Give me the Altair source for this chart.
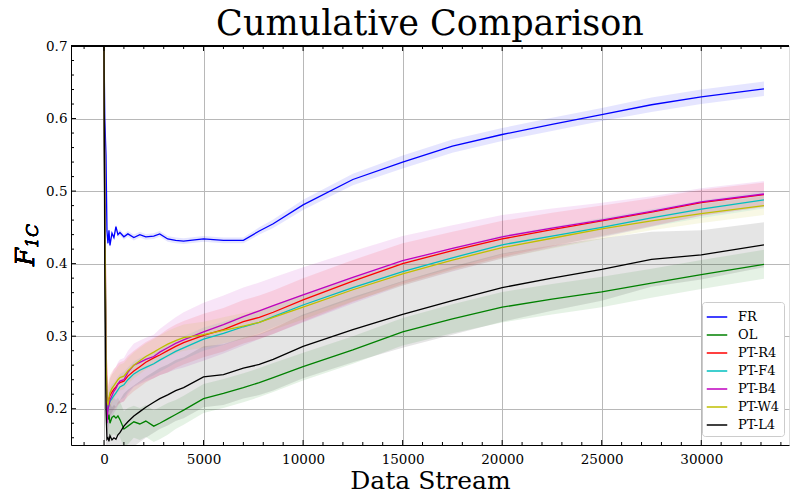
import altair as alt
import pandas as pd

# ---- data ----
SERIES = ["FR", "OL", "PT-R4", "PT-F4", "PT-B4", "PT-W4", "PT-L4"]
COLORS = ["#0000ff", "#008000", "#ff0000", "#00bfbf", "#bf00bf", "#bfbf00", "#000000"]

X = [0, 40, 100, 150, 200, 250, 300, 400, 500, 600, 700, 800, 1000, 1200, 1500, 1800,
     2100, 2500, 2800, 3200, 3600, 4000, 5000, 6000, 7000, 7800, 8500, 10000, 12500,
     15000, 17500, 20000, 22500, 25000, 27500, 30000, 33150]

FR = [0.700, 0.600, 0.550, 0.445, 0.428, 0.446, 0.425, 0.442, 0.436, 0.451, 0.440, 0.443,
      0.437, 0.441, 0.436, 0.440, 0.437, 0.438, 0.441, 0.434, 0.432, 0.431, 0.434, 0.432,
      0.432, 0.445, 0.455, 0.481, 0.516, 0.540, 0.562, 0.578, 0.592, 0.6055, 0.619, 0.630, 0.641]
OL = [0.700, 0.450, 0.250, 0.195, 0.185, 0.192, 0.180, 0.188, 0.190, 0.187, 0.190, 0.185,
      0.172, 0.176, 0.182, 0.179, 0.183, 0.176, 0.180, 0.186, 0.192, 0.198, 0.214, 0.221,
      0.229, 0.236, 0.243, 0.258, 0.281, 0.306, 0.324, 0.340, 0.351, 0.361, 0.373, 0.385, 0.399]
PT_R4 = [0.700, 0.500, 0.300, 0.220, 0.205, 0.213, 0.218, 0.223, 0.227, 0.230, 0.234, 0.236,
         0.238, 0.245, 0.252, 0.258, 0.264, 0.270, 0.274, 0.280, 0.286, 0.291, 0.301, 0.309,
         0.320, 0.326, 0.333, 0.350, 0.376, 0.400, 0.418, 0.434, 0.447, 0.459, 0.471, 0.484, 0.495]
PT_F4 = [0.700, 0.480, 0.280, 0.200, 0.198, 0.205, 0.210, 0.214, 0.218, 0.222, 0.226, 0.230,
         0.233, 0.240, 0.248, 0.253, 0.257, 0.262, 0.267, 0.273, 0.279, 0.284, 0.296, 0.304,
         0.313, 0.319, 0.327, 0.343, 0.367, 0.389, 0.408, 0.426, 0.438, 0.450, 0.463, 0.475, 0.488]
PT_B4 = [0.700, 0.450, 0.260, 0.180, 0.200, 0.205, 0.212, 0.218, 0.224, 0.228, 0.234, 0.238,
         0.240, 0.250, 0.260, 0.264, 0.268, 0.272, 0.278, 0.284, 0.290, 0.295, 0.306, 0.316,
         0.327, 0.335, 0.342, 0.357, 0.381, 0.404, 0.421, 0.437, 0.449, 0.460, 0.472, 0.485, 0.496]
PT_W4 = [0.700, 0.470, 0.270, 0.210, 0.205, 0.215, 0.222, 0.228, 0.232, 0.236, 0.240, 0.243,
         0.245, 0.252, 0.260, 0.266, 0.272, 0.278, 0.283, 0.289, 0.294, 0.298, 0.302, 0.308,
         0.314, 0.319, 0.326, 0.340, 0.364, 0.386, 0.405, 0.422, 0.435, 0.448, 0.459, 0.469, 0.480]
PT_L4 = [0.700, 0.400, 0.200, 0.158, 0.160, 0.155, 0.163, 0.157, 0.160, 0.158, 0.164, 0.167,
         0.176, 0.182, 0.190, 0.196, 0.202, 0.209, 0.214, 0.219, 0.225, 0.229, 0.244, 0.247,
         0.256, 0.261, 0.268, 0.286, 0.309, 0.330, 0.349, 0.367, 0.380, 0.392, 0.406, 0.412, 0.426]

# half widths of the shaded bands
FR_SD = [0.000, 0.010, 0.010, 0.006, 0.005, 0.005, 0.005, 0.004, 0.004, 0.004, 0.004, 0.004,
         0.004, 0.004, 0.004, 0.004, 0.004, 0.004, 0.004, 0.004, 0.004, 0.004, 0.004, 0.004,
         0.004, 0.005, 0.006, 0.007, 0.008, 0.009, 0.009, 0.009, 0.009, 0.009, 0.010, 0.010, 0.010]
OL_SD = [0.000, 0.030, 0.030, 0.025, 0.025, 0.025, 0.025, 0.025, 0.025, 0.025, 0.025, 0.025,
         0.025, 0.025, 0.022, 0.022, 0.022, 0.022, 0.022, 0.022, 0.020, 0.020, 0.020, 0.020,
         0.020, 0.020, 0.020, 0.019, 0.019, 0.019, 0.020, 0.021, 0.021, 0.021, 0.020, 0.020, 0.020]
PT_R4_SD = [0.000, 0.040, 0.040, 0.030, 0.028, 0.028, 0.028, 0.028, 0.028, 0.028, 0.028, 0.028,
            0.028, 0.028, 0.028, 0.028, 0.028, 0.028, 0.028, 0.030, 0.030, 0.030, 0.030, 0.030,
            0.030, 0.030, 0.030, 0.030, 0.029, 0.028, 0.026, 0.025, 0.023, 0.021, 0.019, 0.018, 0.017]
PT_F4_SD = [0.000, 0.030, 0.030, 0.025, 0.020, 0.020, 0.020, 0.020, 0.018, 0.018, 0.018, 0.018,
            0.018, 0.017, 0.017, 0.017, 0.016, 0.016, 0.016, 0.016, 0.016, 0.016, 0.016, 0.016,
            0.016, 0.015, 0.015, 0.015, 0.015, 0.014, 0.014, 0.013, 0.013, 0.013, 0.012, 0.012, 0.012]
PT_B4_SD = [0.000, 0.040, 0.040, 0.035, 0.030, 0.030, 0.030, 0.030, 0.030, 0.030, 0.030, 0.030,
            0.030, 0.030, 0.030, 0.030, 0.030, 0.030, 0.032, 0.034, 0.036, 0.038, 0.040, 0.040,
            0.040, 0.039, 0.039, 0.038, 0.036, 0.034, 0.032, 0.030, 0.027, 0.024, 0.021, 0.019, 0.018]
PT_W4_SD = [0.000, 0.030, 0.030, 0.025, 0.020, 0.020, 0.020, 0.020, 0.018, 0.018, 0.018, 0.018,
            0.018, 0.018, 0.018, 0.018, 0.018, 0.018, 0.018, 0.018, 0.018, 0.018, 0.018, 0.018,
            0.018, 0.017, 0.017, 0.017, 0.016, 0.016, 0.015, 0.015, 0.014, 0.014, 0.013, 0.013, 0.013]
PT_L4_SD = [0.000, 0.050, 0.050, 0.045, 0.045, 0.045, 0.045, 0.045, 0.045, 0.045, 0.045, 0.045,
            0.045, 0.044, 0.042, 0.042, 0.042, 0.042, 0.042, 0.042, 0.042, 0.042, 0.042, 0.042,
            0.042, 0.042, 0.043, 0.044, 0.045, 0.046, 0.047, 0.047, 0.045, 0.043, 0.038, 0.034, 0.031]

X_TICKS = [0, 5000, 10000, 15000, 20000, 25000, 30000]
Y_TICKS = [0.2, 0.3, 0.4, 0.5, 0.6, 0.7]
X_MINOR = [v for v in range(-1000, 35000, 1000) if v % 5000 != 0]
Y_MINOR = [0.16, 0.18, 0.22, 0.24, 0.26, 0.28, 0.32, 0.34, 0.36, 0.38, 0.42, 0.44, 0.46, 0.48,
           0.52, 0.54, 0.56, 0.58, 0.62, 0.64, 0.66, 0.68]

MEANS = [FR, OL, PT_R4, PT_F4, PT_B4, PT_W4, PT_L4]
SDS = [FR_SD, OL_SD, PT_R4_SD, PT_F4_SD, PT_B4_SD, PT_W4_SD, PT_L4_SD]

rows = []
for i, (name, m, s) in enumerate(zip(SERIES, MEANS, SDS)):
    for x, y, d in zip(X, m, s):
        rows.append({"series": name, "order": i, "x": x, "y": y, "lo": y - d, "hi": y + d})
df = pd.DataFrame(rows)

FONT = "DejaVu Serif"
W, H = 718, 399
X_DOM = [-1657, 34407]
Y_DOM = [0.15, 0.7]

xs = alt.Scale(domain=X_DOM, nice=False, zero=False)
ys = alt.Scale(domain=Y_DOM, nice=False, zero=False)
color = alt.Scale(domain=SERIES, range=COLORS)

base = alt.Chart(df)

bands = base.mark_area(opacity=0.1, clip=True).encode(
    x=alt.X("x:Q", scale=xs,
            axis=alt.Axis(values=X_TICKS, format="d", ticks=False, labelPadding=7,
                          labelFont=FONT, labelFontSize=13.5, labelColor="black",
                          grid=True, gridColor="#b8b8b8", gridWidth=1,
                          domainColor="black", domainWidth=1,
                          title="Data Stream", titleFont=FONT, titleFontSize=25,
                          titleFontWeight="normal", titleColor="black", titlePadding=3)),
    y=alt.Y("lo:Q", scale=ys,
            axis=alt.Axis(values=Y_TICKS, format=".1f", ticks=False, labelPadding=4,
                          labelFont=FONT, labelFontSize=13.5, labelColor="black",
                          grid=True, gridColor="#b8b8b8", gridWidth=1,
                          domainColor="black", domainWidth=1, title=None)),
    y2="hi:Q",
    color=alt.Color("series:N", scale=color, legend=None),
    detail="series:N",
)

lines = base.mark_line(strokeWidth=1.3, clip=True).encode(
    x=alt.X("x:Q", scale=xs),
    y=alt.Y("y:Q", scale=ys),
    color=alt.Color("series:N", scale=color, sort=SERIES,
                    legend=alt.Legend(title=None, orient="none", legendX=631, legendY=256,
                                      symbolType="stroke", symbolStrokeWidth=1.5,
                                      symbolSize=420, labelFont=FONT, labelFontSize=13,
                                      labelColor="black", strokeColor="#cccccc",
                                      fillColor="white", padding=4, cornerRadius=3,
                                      rowPadding=0, labelOffset=10)),
    order="order:Q",
)

xmaj = pd.DataFrame({"t": X_TICKS})
xmin = pd.DataFrame({"t": X_MINOR})
ymaj = pd.DataFrame({"t": Y_TICKS})
ymin = pd.DataFrame({"t": Y_MINOR})

def xticks(d, length):
    b = alt.Chart(d).mark_rule(color="black", strokeWidth=1)
    bot = b.encode(x=alt.X("t:Q", scale=xs), y=alt.value(H), y2=alt.value(H - length))
    top = b.encode(x=alt.X("t:Q", scale=xs), y=alt.value(0), y2=alt.value(length))
    return bot + top

def yticks(d, length):
    b = alt.Chart(d).mark_rule(color="black", strokeWidth=1)
    return b.encode(y=alt.Y("t:Q", scale=ys), x=alt.value(0), x2=alt.value(length))

top_spine = alt.Chart(xmaj).mark_rule(color="black", strokeWidth=1).encode(
    x=alt.value(0), x2=alt.value(W), y=alt.value(0))

ylab_F = alt.Chart(xmaj).mark_text(text="F", font=FONT, fontSize=26, fontStyle="italic",
                                   angle=270, align="center", baseline="alphabetic").encode(
    x=alt.value(-37), y=alt.value(211))
ylab_sub = alt.Chart(xmaj).mark_text(text="1C", font=FONT, fontSize=17, fontStyle="italic",
                                     angle=270, align="center", baseline="alphabetic").encode(
    x=alt.value(-33), y=alt.value(190))

chart = alt.layer(
    bands, lines, xticks(xmaj, 5), xticks(xmin, 3), yticks(ymaj, 5), yticks(ymin, 3),
    top_spine, ylab_F, ylab_sub,
).resolve_legend(color="independent").properties(
    width=W, height=H,
    title=alt.TitleParams("Cumulative Comparison", font=FONT, fontSize=35,
                          fontWeight="normal", color="black", anchor="middle",
                          offset=6, dy=9),
    autosize=alt.AutoSizeParams(type="none"),
    padding={"left": 71, "top": 46, "right": 1, "bottom": 52},
).configure_view(stroke=None).configure_title(font=FONT).configure(background="white")

chart.save("out.html", embed_options={"renderer": "svg", "actions": False})
